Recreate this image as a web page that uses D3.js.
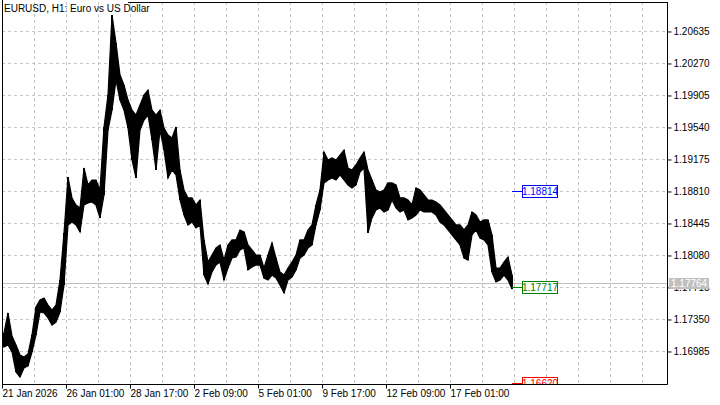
<!DOCTYPE html>
<html>
<head>
<meta charset="utf-8">
<script src="https://cdn.jsdelivr.net/npm/d3@7"></script>
<style>
  html, body { margin: 0; padding: 0; background: #fff; }
  svg { display: block; }
  text { font-family: "Liberation Sans", Arial, sans-serif; }
</style>
</head>
<body>
<svg id="chart" width="720" height="405"></svg>
<script>
// ---- data (each entry = 4 consecutive H1 bars: high / low) ----
const barHigh = [
  1.17196,1.17424,1.17162,1.17059,1.16945,1.16922,1.16956,1.17173,1.17492,1.17572,
  1.17595,1.17515,1.17458,1.17515,1.17800,1.18337,1.18975,1.18736,1.18656,1.18622,
  1.19078,1.18884,1.18941,1.18941,1.18827,1.19545,1.19910,1.20823,1.20504,1.20139,
  1.20024,1.19853,1.19739,1.19682,1.19796,1.19910,1.19967,1.19739,1.19682,1.19739,
  1.19534,1.19454,1.19420,1.19545,1.19055,1.18827,1.18736,1.18736,1.18656,1.18713,
  1.18257,1.18005,1.18085,1.18165,1.18200,1.18028,1.18200,1.18257,1.18257,1.18371,
  1.18348,1.18200,1.18143,1.18085,1.18085,1.17937,1.18085,1.18223,1.18051,1.17891,
  1.17857,1.17937,1.18005,1.18085,1.18257,1.18257,1.18371,1.18428,1.18656,1.18827,
  1.19260,1.19169,1.19192,1.19169,1.19226,1.19283,1.19078,1.19055,1.19112,1.19192,
  1.19260,1.19055,1.18941,1.18827,1.18804,1.18827,1.18907,1.18907,1.18884,1.18736,
  1.18736,1.18713,1.18656,1.18850,1.18827,1.18770,1.18713,1.18713,1.18690,1.18656,
  1.18599,1.18542,1.18485,1.18428,1.18428,1.18371,1.18428,1.18576,1.18542,1.18462,
  1.18485,1.18485,1.18314,1.17937,1.17937,1.18005,1.18062,1.17857
];
const barLow = [
  1.17036,1.17059,1.16979,1.16751,1.16694,1.16797,1.16820,1.16979,1.17173,1.17435,
  1.17424,1.17367,1.17287,1.17321,1.17435,1.17743,1.18428,1.18462,1.18428,1.18348,
  1.18656,1.18679,1.18690,1.18656,1.18508,1.18770,1.19511,1.19739,1.20081,1.19853,
  1.19739,1.19534,1.19169,1.18964,1.19511,1.19625,1.19682,1.19397,1.19055,1.19511,
  1.19283,1.18964,1.19055,1.18998,1.18713,1.18542,1.18428,1.18462,1.18394,1.18428,
  1.17857,1.17754,1.17891,1.17971,1.18005,1.17800,1.17937,1.18051,1.18062,1.18143,
  1.18165,1.17914,1.17948,1.17971,1.17971,1.17823,1.17800,1.17857,1.17823,1.17743,
  1.17652,1.17800,1.17834,1.17914,1.18051,1.18085,1.18165,1.18200,1.18428,1.18599,
  1.18907,1.18941,1.18964,1.18941,1.18998,1.18941,1.18884,1.18850,1.18884,1.19032,
  1.19078,1.18337,1.18508,1.18599,1.18622,1.18576,1.18599,1.18713,1.18622,1.18576,
  1.18599,1.18485,1.18508,1.18542,1.18599,1.18576,1.18576,1.18576,1.18542,1.18462,
  1.18428,1.18371,1.18314,1.18257,1.18200,1.18051,1.18028,1.18314,1.18371,1.18280,
  1.18257,1.18200,1.17891,1.17777,1.17800,1.17857,1.17800,1.17697
];
const barsPerEntry = 4;

const priceTicks = [1.20635,1.20270,1.19905,1.19540,1.19175,1.18810,1.18445,1.18080,1.17715,1.17350,1.16985];
const timeLabels = ["21 Jan 2026","26 Jan 01:00","28 Jan 17:00","2 Feb 09:00","5 Feb 01:00","9 Feb 17:00","12 Feb 09:00","17 Feb 01:00"];
const timeLabelBars = [0,64,128,192,256,320,384,448];
const bidPrice = 1.17764;
const levelValues = [1.18814, 1.17717, 1.16620];
const levelColors = ["#0000ff", "#008000", "#ff0000"];
const title = "EURUSD, H1:  Euro vs US Dollar";

// ---- layout ----
const pLeft = 2, pRight = 667, pTop = 2, pBottom = 384;
const svg = d3.select("#chart");

const x = d3.scaleLinear().domain([0, pRight - pLeft]).range([pLeft, pRight]);
const y = d3.scaleLinear().domain([1.16614, 1.20994]).range([pBottom, 0]);

svg.append("defs").append("clipPath").attr("id", "plotclip")
  .append("rect").attr("x", pLeft + 1).attr("y", 0).attr("width", pRight - pLeft - 1).attr("height", pBottom);

// grid
const grid = svg.append("g").attr("stroke", "#c6c6c6").attr("stroke-dasharray", "3,3").attr("shape-rendering", "crispEdges");
grid.selectAll("line.h").data(priceTicks).join("line").attr("class", "h")
  .attr("x1", pLeft).attr("x2", pRight)
  .attr("y1", d => Math.round(y(d)) + 0.5).attr("y2", d => Math.round(y(d)) + 0.5);
const vGrid = d3.range(32, pRight - pLeft, 32);
grid.selectAll("line.v").data(vGrid).join("line").attr("class", "v")
  .attr("x1", d => Math.round(x(d)) + 0.5).attr("x2", d => Math.round(x(d)) + 0.5)
  .attr("y1", pTop).attr("y2", pBottom);

// bid line
svg.append("line").attr("x1", pLeft).attr("x2", pRight)
  .attr("y1", Math.round(y(bidPrice)) + 0.5).attr("y2", Math.round(y(bidPrice)) + 0.5)
  .attr("stroke", "#c0c0c0").attr("shape-rendering", "crispEdges");

// price bars: high-low band plus one vertical high-low stroke per entry
const bars = barHigh.map((h, i) => ({h, l: barLow[i], i}));
const cx = d => x(d.i * barsPerEntry + barsPerEntry / 2);
const plot = svg.append("g").attr("clip-path", "url(#plotclip)");
plot.append("path").datum(bars)
  .attr("d", d3.area().x(cx).y0(d => y(d.l)).y1(d => y(d.h)))
  .attr("fill", "#000").attr("stroke", "#000").attr("stroke-width", 1.2);
plot.selectAll("line.bar").data(bars).join("line").attr("class", "bar")
  .attr("x1", cx).attr("x2", cx)
  .attr("y1", d => y(d.h)).attr("y2", d => y(d.l))
  .attr("stroke", "#000").attr("stroke-width", 2);

// level markers
const lastX = x(barHigh.length * barsPerEntry) - 2;
const lv = plot.selectAll("g.level").data(levelValues).join("g").attr("class", "level");
lv.append("line")
  .attr("x1", lastX).attr("x2", lastX + 10)
  .attr("y1", d => Math.round(y(d)) + 0.5).attr("y2", d => Math.round(y(d)) + 0.5)
  .attr("stroke", (d, i) => levelColors[i]);
lv.append("rect")
  .attr("x", lastX + 10.5).attr("width", 35)
  .attr("y", d => Math.round(y(d)) - 5.5).attr("height", 12)
  .attr("fill", "#fff").attr("stroke", (d, i) => levelColors[i]);
lv.append("text")
  .attr("x", lastX + 28).attr("y", d => Math.round(y(d)) + 4)
  .attr("text-anchor", "middle").attr("font-size", "10px")
  .attr("fill", (d, i) => levelColors[i])
  .text(d => d.toFixed(5));

// frame
const frame = svg.append("g").attr("stroke", "#000").attr("shape-rendering", "crispEdges");
frame.append("line").attr("x1", pLeft + 0.5).attr("x2", pLeft + 0.5).attr("y1", 0).attr("y2", pBottom + 0.5);
frame.append("line").attr("x1", 128).attr("x2", pRight + 0.5).attr("y1", pTop + 0.5).attr("y2", pTop + 0.5);

// axes
const yAxis = d3.axisRight(y).tickValues(priceTicks).tickSize(4).tickPadding(2).tickFormat(d3.format(".5f"));
const gy = svg.append("g").attr("transform", `translate(${pRight + 0.5},0)`).call(yAxis);
gy.select(".domain").attr("d", `M0,${pTop}V${pBottom + 0.5}`).attr("stroke", "#000");
gy.selectAll(".tick line").attr("stroke", "#000");
gy.selectAll("text").attr("font-family", "Liberation Sans, Arial, sans-serif").attr("font-size", "10px").attr("fill", "#000");

const xAxis = d3.axisBottom(x).tickValues(timeLabelBars).tickSize(4).tickPadding(1)
  .tickFormat((d, i) => timeLabels[i]);
const gx = svg.append("g").attr("transform", `translate(0,${pBottom + 0.5})`).call(xAxis);
gx.select(".domain").attr("d", `M${pLeft},0H${pRight + 0.5}`).attr("stroke", "#000");
gx.selectAll(".tick line").attr("stroke", "#000");
gx.selectAll("text").attr("text-anchor", "start").attr("dx", "0")
  .attr("font-family", "Liberation Sans, Arial, sans-serif").attr("font-size", "10px").attr("fill", "#000");

// bid label (covers the neighbouring tick label, as in the terminal)
const by = Math.round(y(bidPrice));
svg.append("rect").attr("x", 669).attr("y", by - 5).attr("width", 40).attr("height", 11).attr("fill", "#c0c0c0");
svg.append("text").attr("x", 671).attr("y", by + 4).attr("font-size", "10px").attr("fill", "#fff").text(bidPrice.toFixed(5));

// title
svg.append("text").attr("x", 4).attr("y", 12).attr("font-size", "10px").attr("fill", "#000").text(title);
</script>
</body>
</html>
